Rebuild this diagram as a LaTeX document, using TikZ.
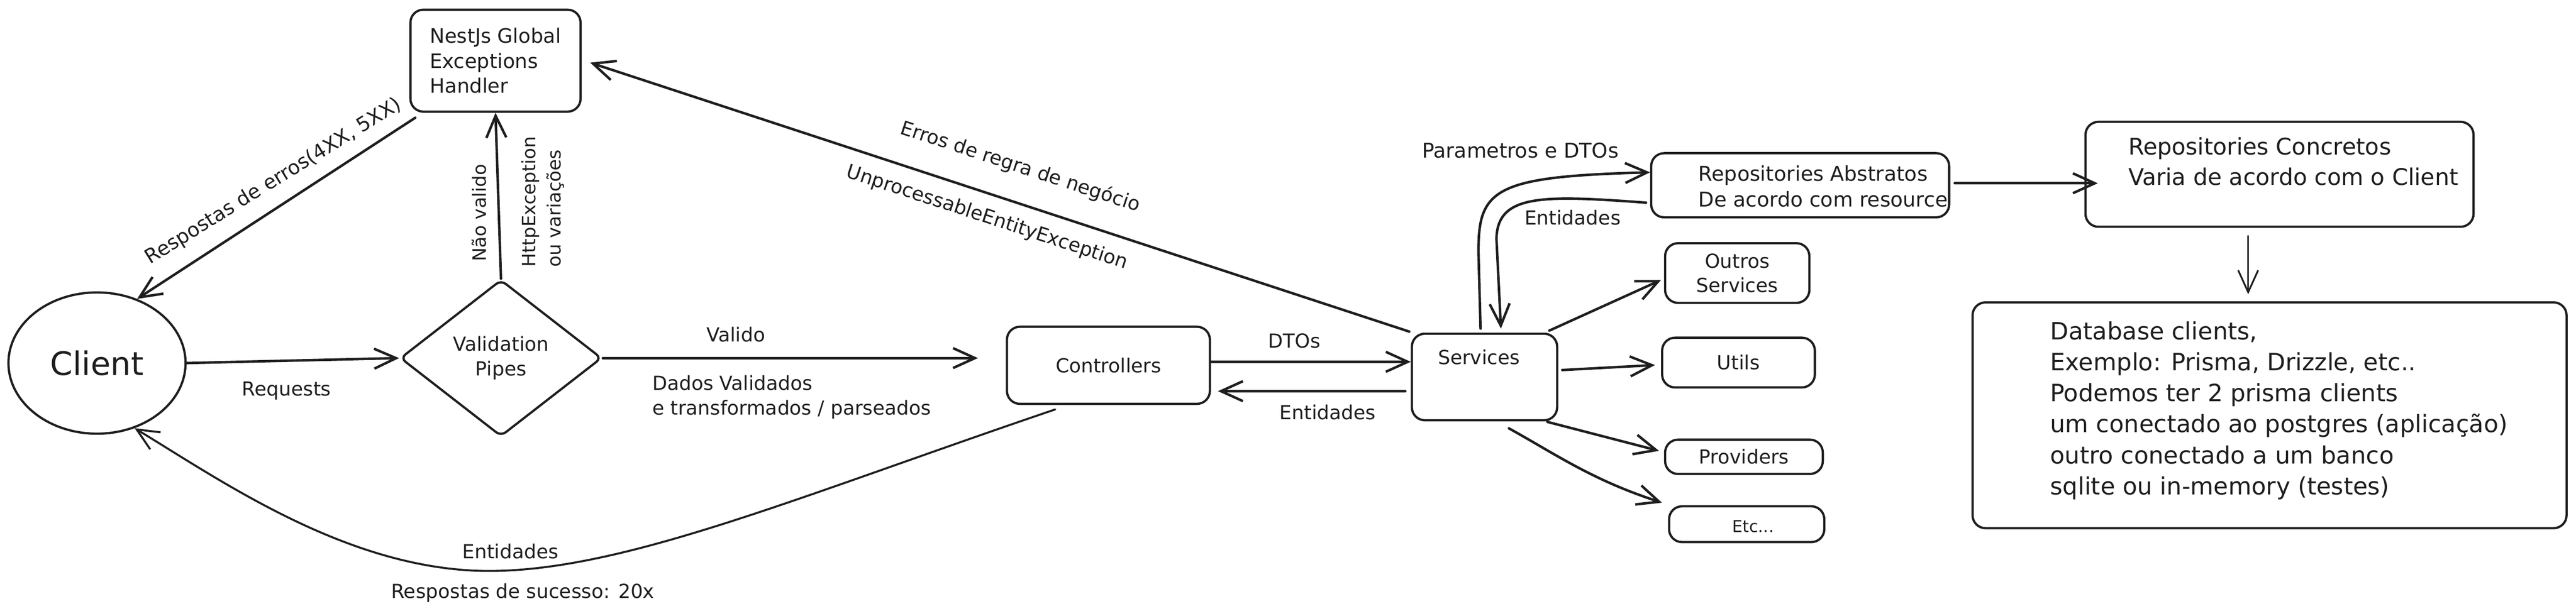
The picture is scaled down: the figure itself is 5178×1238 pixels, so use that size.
\documentclass[tikz,border=0pt]{standalone}
\usepackage{fontspec}
\setmainfont{DejaVu Sans}
\usetikzlibrary{arrows.meta,shapes.geometric,calc}
\definecolor{ink}{HTML}{1E1E1E}
\newcommand{\fsz}[2]{\fontsize{#1}{#2}\selectfont}
\begin{document}
\begin{tikzpicture}[x=1pt,y=-1pt,
  box/.style={draw=ink, line width=4.5pt, rounded corners=26pt, inner sep=0pt},
  conn/.style={draw=ink, line width=5pt, line cap=round, line join=round, -{Straight Barb[length=44pt,width=40pt]}},
  txt/.style={inner sep=0pt, text=ink, font=\fsz{39}{49}},
]
\fill[white] (0,0) rectangle (5178,1238);
\useasboundingbox (0,0) rectangle (5178,1238);

% nodes
\node[box, minimum width=342pt, minimum height=205pt, txt, font=\fsz{40}{50}, align=left] (nest) at (996,122) {NestJs Global\\Exceptions\\Handler};
\node[draw=ink, line width=4.5pt, ellipse, minimum width=356pt, minimum height=284pt, inner sep=0pt, text=ink, font=\fsz{65}{70}] (client) at (195,730) {Client};
\node[draw=ink, line width=4.5pt, diamond, aspect=1.286, minimum width=405pt, minimum height=315pt, inner sep=0pt, rounded corners=12pt, txt, align=center] (valid) at (1007,720) {Validation\\Pipes};
\node[box, minimum width=408pt, minimum height=155pt, txt] (ctrl) at (2228,734.5) {Controllers};
\node[box, minimum width=292pt, minimum height=174pt] (serv) at (2984,758) {};
\node[txt] (servt) at (2973,718) {Services};
\node[box, minimum width=290pt, minimum height=120pt, txt, align=center] (outros) at (3492,549) {Outros\\Services};
\node[box, minimum width=307pt, minimum height=100pt, txt] (utils) at (3494.5,729) {Utils};
\node[box, minimum width=317pt, minimum height=69pt, txt] (prov) at (3505.5,918.5) {Providers};
\node[box, minimum width=312pt, minimum height=72pt] (etc) at (3511,1054) {};
\node[txt, font=\fsz{33}{40}] (etct) at (3524,1058) {Etc...};
\node[box, minimum width=599pt, minimum height=129pt] (rabs) at (3618.5,372.5) {};
\node[txt, font=\fsz{41}{51}, align=left, anchor=west] (rabst) at (3414,374.5) {Repositories Abstratos\\De acordo com resource};
\node[box, minimum width=780pt, minimum height=211pt] (rcon) at (4582,350.5) {};
\node[txt, font=\fsz{46}{61}, align=left, anchor=west] (rcont) at (4278,324.5) {Repositories Concretos\\Varia de acordo com o Client};
\node[box, minimum width=1194pt, minimum height=454pt] (db) at (4562,835) {};
\node[txt, font=\fsz{48}{62.2}, align=left, anchor=west] (dbt) at (4121,825.5) {Database clients,\\Exemplo: Prisma, Drizzle, etc..\\Podemos ter 2 prisma clients\\um conectado ao postgres (aplicação)\\outro conectado a um banco\\sqlite ou in-memory (testes)};

% helper coordinates
\coordinate (low) at (977,1148);
\coordinate (pbend) at (2972,513);
\coordinate (ebend) at (3008,480);

% connectors
\draw[conn] ($(nest.south west)+(12,10)$) -- (client.58);
\draw[conn] (client.east) -- (valid.west);
\draw[conn] (valid.north) -- (nest.south);
\draw[conn, shorten >=56pt] (valid.east) -- (valid.east -| ctrl.west);
\draw[conn] ($(ctrl.east)+(0,-7)$) -- ($(ctrl.east -| serv.west)+(0,-7)$);
\draw[conn, shorten <=11pt, shorten >=14pt] ($(ctrl.east -| serv.west)+(0,52)$) -- ($(ctrl.east)+(0,52)$);
\draw[conn] ($(serv.north west)+(-3,-2)$) -- ($(nest.east)+(17,4)$);
\draw[conn, line width=4pt] ($(ctrl.south)+(-107,9)$) .. controls (1600,1000) and (1250,1150) .. (low) .. controls (700,1145) and (450,970) .. (client.-60);
\draw[conn] ($(serv.north)+(-8,-8)$) -- (pbend) .. controls (2970,380) and (3000,355) .. ($(rabs.west)+(0,-26)$);
\draw[conn] ($(rabs.west)+(-8,35)$) .. controls (3100,392) and (3010,390) .. (ebend) -- ($(serv.north)+(33,-8)$);
\draw[conn] ($(serv.north east)+(-18,-4)$) -- ($(outros.west)+(-6,14)$);
\draw[conn] ($(serv.east)+(8,-14)$) -- ($(utils.west)+(-12,5)$);
\draw[conn] ($(serv.south east)+(-22,1)$) -- ($(prov.west)+(-10,-12)$);
\draw[conn] ($(serv.south)+(49,14)$) .. controls (3130,915) and (3200,965) .. ($(etc.north west)+(-12,-5)$);
\draw[conn] ($(rabs.east)+(9,-4)$) -- ($(rabs.east -| rcon.west)+(27,-4)$);
\draw[conn, line width=3.5pt] ($(rcon.south)+(-63,16)$) -- ($(db.north)+(-43,-14)$);

% labels
\node[txt, font=\fsz{40}{50}, rotate=31.8] (lresp) at (550,365) {Respostas de erros(4XX, 5XX)};
\node[txt] (lreq) at (576,786) {Requests};
\node[txt, font=\fsz{37}{51}, rotate=90] (lnao) at (963,428) {Não valido};
\node[txt, font=\fsz{37}{51}, rotate=90, align=left, anchor=west] (lhttp) at (1091,537) {HttpException\\ou variações};
\node[txt] (lval) at (1479,673) {Valido};
\node[txt, align=left, anchor=west] (ldados) at (1311,798.5) {Dados Validados\\e transformados / parseados};
\node[txt, rotate=-18.2] (lerros) at (2051,336) {Erros de regra de negócio};
\node[txt, rotate=-18.2] (lunp) at (1984,438) {UnprocessableEntityException};
\node[txt] (ldtos) at (2602,685) {DTOs};
\node[txt] (lent1) at (2669,829) {Entidades};
\node[txt, font=\fsz{41}{51}] (lparam) at (3056,302) {Parametros e DTOs};
\node[txt] (lent2) at (3161,438) {Entidades};
\node[txt] (lent3) at (1026,1109) {Entidades};
\node[txt] (lsuc) at (1051,1192) {Respostas de sucesso: 20x};
\end{tikzpicture}
\end{document}
